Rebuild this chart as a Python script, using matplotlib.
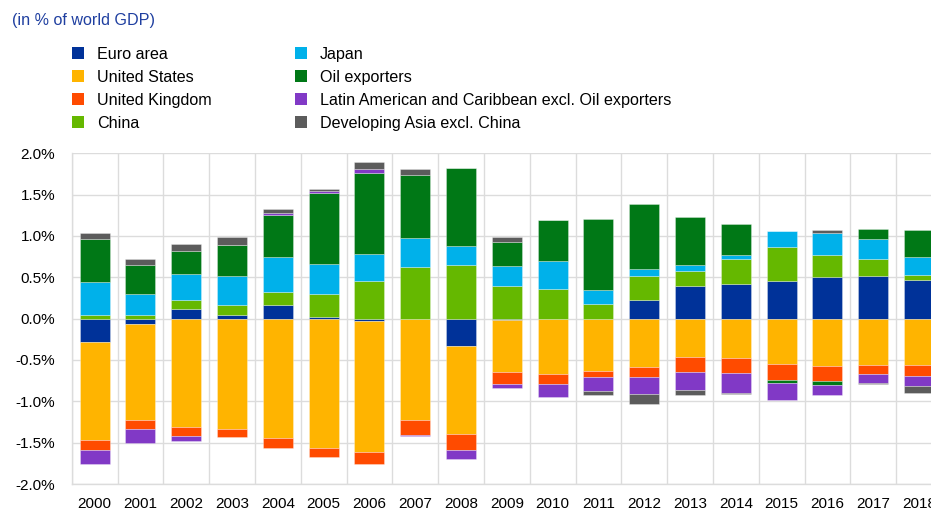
import numpy as np
import matplotlib
matplotlib.use('Agg')
import matplotlib.pyplot as plt
from matplotlib.patches import Rectangle
from matplotlib.ticker import FuncFormatter

plt.rcParams['font.family'] = ['Liberation Sans', 'DejaVu Sans']

years = [str(y) for y in range(2000, 2019)]
euro_area = [-0.28, -0.07, 0.12, 0.05, 0.16, 0.02, -0.03, 0.0, -0.33, -0.02, 0.0, -0.01, 0.23, 0.39, 0.42, 0.46, 0.50, 0.51, 0.47]
united_states = [-1.19, -1.16, -1.31, -1.33, -1.44, -1.57, -1.58, -1.22, -1.07, -0.62, -0.67, -0.62, -0.58, -0.46, -0.47, -0.55, -0.57, -0.56, -0.56]
united_kingdom = [-0.12, -0.11, -0.11, -0.10, -0.12, -0.10, -0.15, -0.19, -0.19, -0.15, -0.125, -0.07, -0.13, -0.18, -0.19, -0.19, -0.19, -0.11, -0.13]
china = [0.05, 0.04, 0.10, 0.11, 0.16, 0.28, 0.45, 0.62, 0.65, 0.40, 0.355, 0.18, 0.29, 0.19, 0.30, 0.41, 0.27, 0.21, 0.055]
japan = [0.39, 0.26, 0.32, 0.36, 0.42, 0.36, 0.33, 0.36, 0.23, 0.24, 0.34, 0.17, 0.08, 0.065, 0.05, 0.19, 0.27, 0.24, 0.215]
oil_exporters = [0.52, 0.35, 0.28, 0.37, 0.51, 0.86, 0.98, 0.76, 0.94, 0.29, 0.50, 0.85, 0.79, 0.59, 0.38, -0.04, -0.04, 0.13, 0.33]
latin_america = [-0.17, -0.16, -0.065, 0.0, 0.025, 0.03, 0.05, -0.015, -0.105, -0.05, -0.155, -0.18, -0.20, -0.225, -0.24, -0.20, -0.125, -0.11, -0.12]
developing_asia = [0.07, 0.07, 0.08, 0.10, 0.05, 0.02, 0.08, 0.07, 0.0, 0.06, 0.0, -0.045, -0.12, -0.06, -0.01, 0.0, 0.03, -0.015, -0.09]

labels = ['Euro area', 'United States', 'United Kingdom', 'China', 'Japan',
          'Oil exporters', 'Latin American and Caribbean excl. Oil exporters',
          'Developing Asia excl. China']
series = [euro_area, united_states, united_kingdom, china, japan,
          oil_exporters, latin_america, developing_asia]
colors = ['#003299', '#FFB400', '#FF4B00', '#65B800', '#00B1EA',
          '#007816', '#8139C6', '#5C5C5C']

W, H = 931, 511
fig = plt.figure(figsize=(W / 100, H / 100), dpi=100)
ax = fig.add_axes([71.7 / W, (H - 484) / H, 870.2 / W, 330.7 / H])

x = np.arange(len(years))
pos = np.zeros(len(years))
neg = np.zeros(len(years))
for vals, col, lab in zip(series, colors, labels):
    v = np.array(vals, dtype=float)
    bottom = np.where(v >= 0, pos, neg)
    ax.bar(x, v, 0.655, bottom=bottom, color=col, label=lab,
           edgecolor=(1, 1, 1, 0.35), linewidth=0.6, zorder=3)
    pos += np.clip(v, 0, None)
    neg += np.clip(v, None, 0)

ax.set_xlim(-0.5, len(years) - 0.5)
ax.set_ylim(-2.0, 2.0)
ax.set_yticks(np.arange(-2.0, 2.01, 0.5))
ax.yaxis.set_major_formatter(FuncFormatter(lambda v, p: f'{v:.1f}%'))
ax.set_xticks(x)
ax.set_xticklabels(years)
ax.set_xticks(np.arange(-0.5, len(years), 1.0), minor=True)
ax.grid(axis='y', which='major', color='#dcdcdc', linewidth=1.0, zorder=0)
ax.grid(axis='x', which='minor', color='#dcdcdc', linewidth=1.0, zorder=0)
ax.tick_params(which='both', length=0, labelsize=11, colors='#000000')
ax.tick_params(axis='x', pad=9)
ax.tick_params(axis='y', pad=12)
for s in ['top', 'right']:
    ax.spines[s].set_visible(False)
for s in ['left', 'bottom']:
    ax.spines[s].set_color('#dcdcdc')
    ax.spines[s].set_linewidth(1.0)

fig.text(12 / W, 1 - 21 / H, '(in % of world GDP)', color='#1F3FA0',
         fontsize=11.6, va='center', ha='left')

rows_y = [53, 76, 99, 122]
col_x = [72, 295]
for i, (lab, col) in enumerate(zip(labels, colors)):
    c, r = divmod(i, 4)
    sx = col_x[c]
    sy = rows_y[r]
    fig.patches.append(Rectangle((sx / W, 1 - (sy + 6) / H), 12 / W, 12 / H,
                                 transform=fig.transFigure, facecolor=col,
                                 edgecolor='none'))
    fig.text((sx + 25) / W, 1 - (sy + 1.5) / H, lab, fontsize=11.6,
             va='center', ha='left', color='#000000')

fig.savefig('out.png', dpi=100)
